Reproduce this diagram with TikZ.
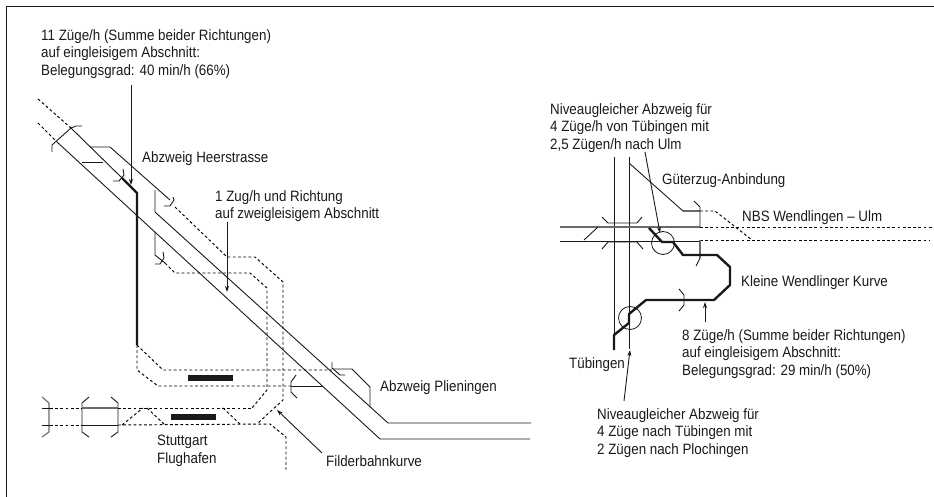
\documentclass[tikz,border=0pt]{standalone}
\usepackage{fontspec}
\setmainfont[FakeStretch=0.89]{Liberation Sans}
\usetikzlibrary{arrows.meta}
\definecolor{ink}{gray}{0.1}
\tikzset{
  x=1pt,y=-1pt,
  thin track/.style={draw=ink,line width=0.9pt,line join=miter},
  grey track/.style={draw=ink!65,line width=1.1pt},
  dash track/.style={draw=black,line width=0.95pt,dash pattern=on 2.8pt off 2.4pt},
  bold track/.style={draw=ink,line width=2.4pt,line join=miter},
  pointer/.style={draw=ink,line width=0.9pt,-{Stealth[length=6pt,width=4pt]}},
  platform/.style={fill=ink,draw=none},
  ring/.style={circle,draw=ink,line width=0.8pt,inner sep=0pt,fill=none},
  lbl/.style={anchor=north west,inner sep=0pt,align=left,text=ink,
    font=\fontsize{15}{17.6}\selectfont,execute at begin node=\rule{0pt}{12pt}},
}
\begin{document}
\begin{tikzpicture}
\useasboundingbox (0,0) rectangle (934,497);
% frame
\draw[draw=ink,line width=1.4pt] (6.5,497) -- (6.5,6.5) -- (934,6.5);
% ---------- left diagram: main tracks
\draw[dash track] (38,99) -- (71,128);
\draw[dash track] (38,123) -- (57,142);
\draw[thin track] (71,128) -- (122,178);
\draw[bold track] (122,178) -- (137,193) -- (137,345);
\draw[thin track] (57,142) -- (380,439) -- (530,439);
\draw[thin track] (155,190) -- (155,212) -- (388,423) -- (531,423);
\draw[thin track] (52,152) -- (52,145) -- (71,128) -- (76,126) -- (82,126);
\draw[thin track] (82,162) -- (103,162);
\draw[thin track] (90,147) -- (110,147) -- (170,200);
\draw[thin track] (164,206) -- (170,206) -- (174,200) -- (173,197);
\draw[thin track] (113,181) -- (119,181) -- (124,175) -- (123,169);
\draw[dash track] (175,207) -- (227,257) -- (255,257) -- (283,282) -- (283,400) -- (258,423);
\draw[thin track] (155,232) -- (155,255) -- (165,263);
\draw[thin track] (155,264) -- (160,264) -- (164,258) -- (163,252);
\draw[dash track] (165,263) -- (175,273) -- (250,273) -- (267,288) -- (267,390) -- (252,408);
% junction Plieningen
\draw[dash track] (137,345) -- (163,370) -- (332,370);
\draw[dash track] (137,345) -- (137,370) -- (158,386) -- (291,386);
\draw[thin track] (291,386) -- (323,386);
\draw[thin track] (297,398) -- (291,392) -- (291,382) -- (296,375);
\draw[thin track] (332,362) -- (332,368) -- (340,375) -- (345,375);
\draw[thin track] (333,369) -- (352,369) -- (370,387) -- (370,407);
% station
\fill[platform] (188,375) rectangle (233,381);
\fill[platform] (171,414) rectangle (216,420);
\draw[grey track] (42,397) -- (49,403) -- (49,432) -- (42,437);
\draw[thin track] (89,397) -- (82,403) -- (82,432) -- (89,437);
\draw[thin track] (111,397) -- (118,403) -- (118,432) -- (111,437);
\draw[thin track] (42,408) -- (50,408);
\draw[thin track] (42,425) -- (50,425);
\draw[grey track] (82,408) -- (118,408);
\draw[thin track] (82,425) -- (118,425);
\draw[dash track] (50,408) -- (82,408);
\draw[dash track] (50,425) -- (82,425);
\draw[dash track] (118,408) -- (252,408);
\draw[dash track] (118,425) -- (270,424) -- (286,437) -- (286,470);
\draw[dash track] (122,425) -- (143,408);
\draw[dash track] (147,408) -- (165,425);
\draw[dash track] (223,408) -- (240,424);
% ---------- right diagram
\draw[thin track] (614,157) -- (614,335);
\draw[thin track] (629,157) -- (629,349);
\draw[grey track] (560,227) -- (700,227);
\draw[thin track] (560,241) -- (700,241);
\draw[dash track] (700,227) -- (932,227);
\draw[dash track] (700,240) -- (929,240);
\draw[thin track] (584,240) -- (598,227);
\draw[thin track] (629,163) -- (683,211);
\draw[grey track] (683,211) -- (700,211);
\draw[dash track] (700,211) -- (715,211) -- (752,240);
\draw[thin track] (694,201) -- (700,207) -- (700,227);
\draw[grey track] (700,240) -- (700,258);
\draw[thin track] (700,258) -- (696,266);
\draw[thin track] (602,217) -- (608,223) -- (637,223) -- (642,217);
\draw[thin track] (602,249) -- (608,242) -- (637,242) -- (643,249);
\draw[thin track] (679,289) -- (684,295) -- (684,305) -- (679,311);
\draw[bold track] (649,228) -- (662,242) -- (673,242) -- (683,255) -- (717,255) -- (730,267) -- (730,285) -- (714,300) -- (646,300) -- (629,314) -- (629,323) -- (614,335) -- (614,350);
\node[ring,minimum size=23pt] (ringA) at (663,243) {};
\node[ring,minimum size=23pt] (ringB) at (630,318) {};
% ---------- labels
\node[lbl] (t1) at (41,29) {11 Züge/h (Summe beider Richtungen)\\auf eingleisigem Abschnitt:\\Belegungsgrad: 40 min/h (66\%)};
\node[lbl] (t2) at (142,150) {Abzweig Heerstrasse};
\node[lbl] (t3) at (215,190) {1 Zug/h und Richtung\\auf zweigleisigem Abschnitt};
\node[lbl] (t4) at (380,379) {Abzweig Plieningen};
\node[lbl] (t5) at (157,435) {Stuttgart\\Flughafen};
\node[lbl] (t6) at (326,454) {Filderbahnkurve};
\node[lbl] (t7) at (550,103) {Niveaugleicher Abzweig für\\4 Züge/h von Tübingen mit\\2,5 Zügen/h nach Ulm};
\node[lbl] (t8) at (662,172) {Güterzug-Anbindung};
\node[lbl] (t9) at (742,209) {NBS Wendlingen – Ulm};
\node[lbl] (t10) at (741,274) {Kleine Wendlinger Kurve};
\node[lbl] (t11) at (682,329) {8 Züge/h (Summe beider Richtungen)\\auf eingleisigem Abschnitt:\\Belegungsgrad: 29 min/h (50\%)};
\node[lbl] (t12) at (569,356) {Tübingen};
\node[lbl] (t13) at (597,408) {Niveaugleicher Abzweig für\\4 Züge nach Tübingen mit\\2 Zügen nach Plochingen};
% ---------- pointers
\coordinate (a1s) at (131,85);  \coordinate (a1e) at (131,185);
\coordinate (a2s) at (227,222); \coordinate (a2e) at (227,292);
\coordinate (a3s) at (322,453); \coordinate (a3e) at (277,410);
\coordinate (a4s) at (645,152); \coordinate (a4e) at (660,233);
\coordinate (a5s) at (705,322); \coordinate (a5e) at (705,302);
\coordinate (a6s) at (624,401); \coordinate (a6e) at (630,350);
\foreach \s/\e in {a1s/a1e,a2s/a2e,a3s/a3e,a4s/a4e,a5s/a5e,a6s/a6e}
  \draw[pointer] (\s) -- (\e);
\end{tikzpicture}
\end{document}
